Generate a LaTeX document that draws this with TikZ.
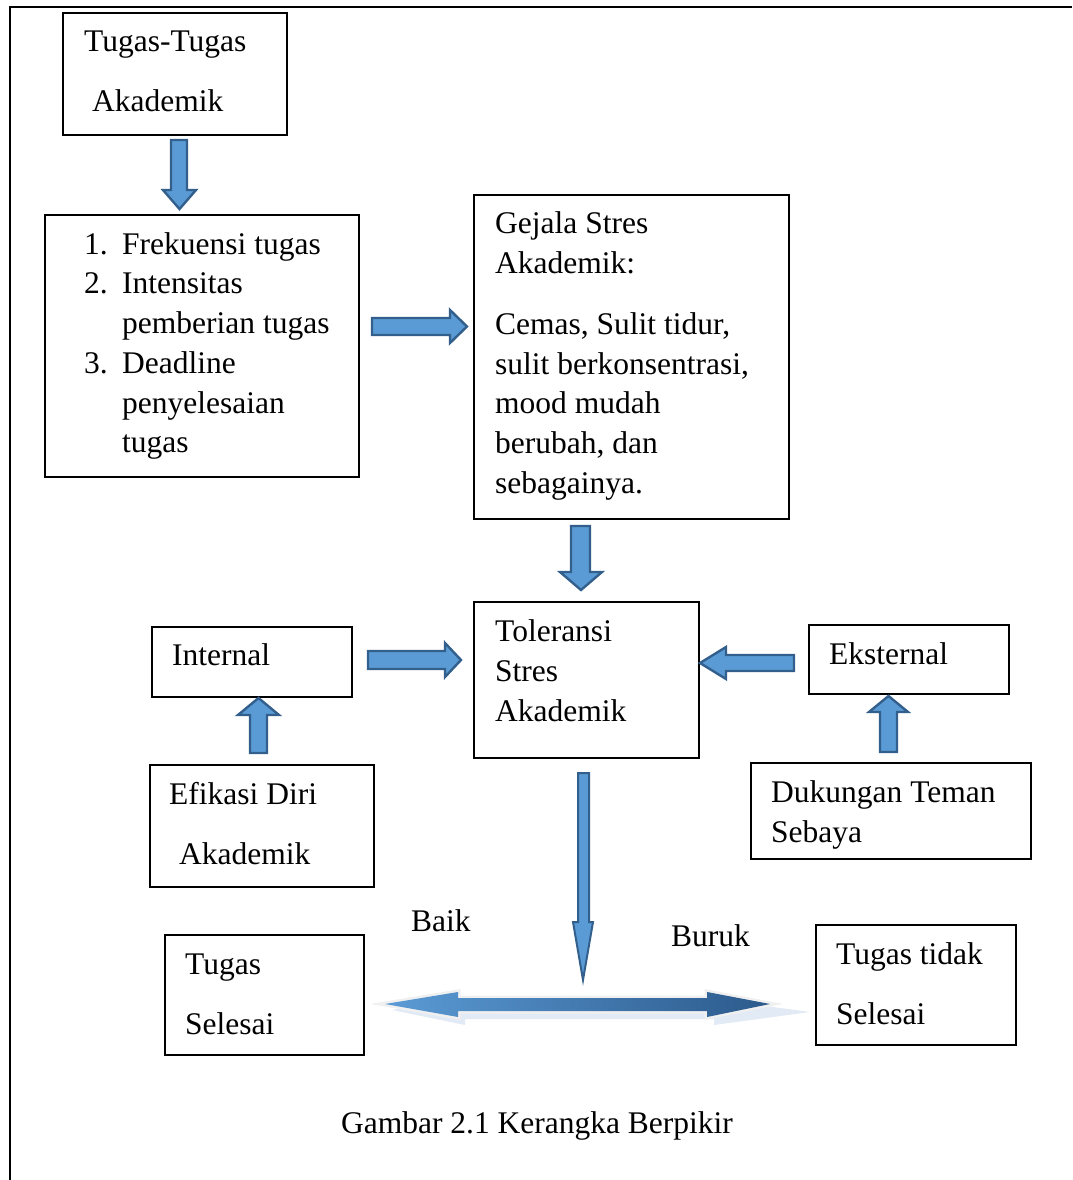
\documentclass[tikz,border=0pt]{standalone}
\usepackage{fontspec}
\setmainfont{Liberation Serif}
\definecolor{afill}{HTML}{5B9BD5}
\definecolor{aline}{HTML}{335F8C}
\definecolor{adark}{HTML}{2C5A8C}
\definecolor{aglow}{HTML}{D9E5F2}
\tikzset{
  box/.style={draw=black, line width=1.6pt, inner sep=0pt, anchor=north west},
  txt/.style={inner sep=0pt, anchor=base west, font=\fontsize{31.5}{39.7}\selectfont},
  blockarr/.style={draw=aline, fill=afill, line width=2.4pt, line join=miter}
}
\newcommand\mkbox[5]{\node[box, minimum width=#4pt, minimum height=#5pt] (#1) at (#2,#3) {};}
\begin{document}
\begin{tikzpicture}[x=1pt,y=-1pt]
\useasboundingbox (0,0) rectangle (1072,1180);
% outer frame (top and left only)
\draw[line width=2pt] (1072,7) -- (10,7) -- (10,1180);

% boxes
\mkbox{bTugas}{62}{12}{224}{122}
\mkbox{bList}{44}{214}{314}{262}
\mkbox{bGejala}{473}{194}{315}{324}
\mkbox{bTol}{473}{601}{225}{156}
\mkbox{bInt}{151}{626}{200}{70}
\mkbox{bEks}{808}{624}{200}{69}
\mkbox{bEfi}{149}{764}{224}{122}
\mkbox{bDuk}{750}{762}{280}{96}
\mkbox{bSel}{164}{934}{199}{120}
\mkbox{bTdk}{815}{924}{200}{120}

% texts
\node[txt] (t1a) at (84,52) {Tugas-Tugas};
\node[txt] (t1b) at (92,112) {Akademik};

\node[txt] (n1) at (84,254) {1.};
\node[txt] (l1) at (122,254) {Frekuensi tugas};
\node[txt] (n2) at (84,293) {2.};
\node[txt] (l2) at (122,293) {Intensitas};
\node[txt] (l3) at (122,333) {pemberian tugas};
\node[txt] (n3) at (84,373) {3.};
\node[txt] (l4) at (122,373) {Deadline};
\node[txt] (l5) at (122,413) {penyelesaian};
\node[txt] (l6) at (122,452) {tugas};

\node[txt] (g1) at (495,233) {Gejala Stres};
\node[txt] (g2) at (495,273) {Akademik:};
\node[txt] (g3) at (495,334) {Cemas, Sulit tidur,};
\node[txt] (g4) at (495,374) {sulit berkonsentrasi,};
\node[txt] (g5) at (495,413) {mood mudah};
\node[txt] (g6) at (495,453) {berubah, dan};
\node[txt] (g7) at (495,493) {sebagainya.};

\node[txt] (s1) at (495,641) {Toleransi};
\node[txt] (s2) at (495,681) {Stres};
\node[txt] (s3) at (495,721) {Akademik};

\node[txt] (ti) at (172,665) {Internal};
\node[txt] (te) at (829,664) {Eksternal};

\node[txt] (e1) at (169,804) {Efikasi Diri};
\node[txt] (e2) at (179,864) {Akademik};

\node[txt] (d1) at (771,802) {Dukungan Teman};
\node[txt] (d2) at (771,842) {Sebaya};

\node[txt] (baik) at (411,931) {Baik};
\node[txt] (buruk) at (671,946) {Buruk};

\node[txt] (r1) at (185,974) {Tugas};
\node[txt] (r2) at (185,1034) {Selesai};
\node[txt] (q1) at (836,964) {Tugas tidak};
\node[txt] (q2) at (836,1024) {Selesai};

\node[txt, anchor=base] (cap) at (537,1133) {Gambar 2.1 Kerangka Berpikir};

% block arrows
\draw[blockarr] (171,140) -- (187,140) -- (187,190) -- (196,190) -- (179.5,209) -- (163,190) -- (171,190) -- cycle;
\draw[blockarr] (372,318) -- (450,318) -- (450,310) -- (467,326.5) -- (450,343) -- (450,335) -- (372,335) -- cycle;
\draw[blockarr] (571,526) -- (590,526) -- (590,572) -- (602,572) -- (581,590) -- (560,572) -- (571,572) -- cycle;
\draw[blockarr] (368,651) -- (445,651) -- (445,643) -- (461,660) -- (445,677) -- (445,669) -- (368,669) -- cycle;
\draw[blockarr] (794,655) -- (726,655) -- (726,647) -- (700,663) -- (726,679) -- (726,671) -- (794,671) -- cycle;
\draw[blockarr] (880,752) -- (897,752) -- (897,712) -- (908,712) -- (888.5,696) -- (869,712) -- (880,712) -- cycle;
\draw[blockarr] (250,753) -- (267,753) -- (267,715) -- (279,715) -- (258.5,698) -- (238,715) -- (250,715) -- cycle;
\draw[blockarr, line width=2pt] (578,773) -- (589,773) -- (589,922) -- (593,922) -- (583,980) -- (573,922) -- (578,922) -- cycle;

% double-headed arrow with glow and shadow
\fill[aglow, opacity=0.8] (392,1010) -- (465,999) -- (465,1005) -- (714,1005) -- (714,999) -- (810,1012) -- (714,1025) -- (714,1019) -- (465,1019) -- (465,1025) -- cycle;
\draw[gray!12, line width=5pt, line join=miter] (385,1004) -- (458,992) -- (458,998) -- (707,998) -- (707,992) -- (770,1004) -- (707,1017) -- (707,1011) -- (458,1011) -- (458,1017) -- cycle;
\shade[left color=afill, right color=adark] (385,1004) -- (458,992) -- (458,998) -- (707,998) -- (707,992) -- (770,1004) -- (707,1017) -- (707,1011) -- (458,1011) -- (458,1017) -- cycle;
\end{tikzpicture}
\end{document}
